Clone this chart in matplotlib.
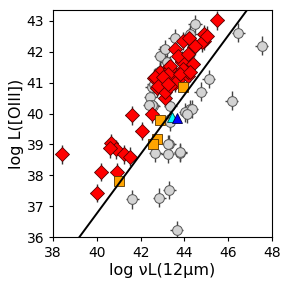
import matplotlib
matplotlib.use("Agg")
import matplotlib.pyplot as plt
import numpy as np

# gray circles (comparison sample)
gray_x = [44.48, 46.46, 47.53, 45.1, 44.74, 46.16, 44.26, 44.03, 43.57, 42.9, 43.19, 42.9,
          42.5, 42.58, 43.35, 42.43, 43.35, 43.35, 44.26, 44.18, 42.66, 43.23, 43.8, 43.3,
          41.62, 42.84, 43.3, 43.65, 44.33, 44.1, 42.53, 43.26, 43.8, 42.6, 43.1, 42.4]
gray_y = [42.9, 42.62, 42.2, 41.12, 40.71, 40.42, 40.15, 40.04, 42.44, 41.87, 41.66, 41.39,
          40.87, 40.23, 40.23, 40.53, 39.83, 39.74, 42.57, 42.41, 38.72, 38.7, 38.72, 39.0,
          37.22, 37.28, 37.52, 36.23, 40.15, 39.99, 40.26, 39.02, 38.75, 40.97, 42.09, 40.26]

# red diamonds
red_x = [38.4, 40.0, 40.2, 40.9, 40.65, 40.86, 40.6, 41.25, 41.5, 42.05, 41.6, 42.5,
         43.1, 42.76, 42.6, 43.26, 43.8, 44.15, 43.3, 43.9, 44.33, 43.57, 43.95, 44.44,
         44.87, 44.9, 45.5, 44.22, 43.1, 42.9, 43.88, 44.18, 43.5, 43.35, 44.79, 45.02,
         44.48, 43.72, 44.18, 43.35, 43.95, 44.41, 43.26, 43.8, 44.26, 43.57, 42.66, 42.8,
         43.35, 43.04, 43.26]
red_y = [38.68, 37.43, 38.1, 38.1, 39.04, 38.84, 38.87, 38.68, 38.6, 39.43, 39.94, 39.99,
         40.5, 40.83, 41.15, 41.01, 41.14, 41.23, 41.52, 41.71, 41.6, 42.09, 42.35, 42.14,
         42.35, 42.57, 43.02, 42.46, 40.69, 41.33, 41.66, 41.33, 41.17, 41.44, 42.3, 42.52,
         42.19, 41.87, 41.93, 41.55, 41.44, 41.6, 41.28, 41.28, 41.33, 41.0, 41.17, 40.9,
         40.9, 41.17, 40.96]

# orange squares
orange_x = [43.95, 42.9, 42.76, 42.55, 41.01]
orange_y = [40.85, 39.8, 39.18, 39.02, 37.8]

# triangles
cyan_x, cyan_y = [43.42], [39.9]
blue_x, blue_y = [43.65], [39.86]

# relation line
line_x = [38.0, 48.0]
line_slope = 0.96
line_x0 = 39.2

plt.rcParams["font.family"] = "DejaVu Sans"
fig = plt.figure(figsize=(2.87, 2.87), dpi=100)
ax = fig.add_axes([0.185, 0.174, 0.763, 0.791])

ax.errorbar(gray_x, gray_y, xerr=0.3, yerr=0.3, fmt="o", ms=7, mfc="#d3d3d3",
            mec="#555555", mew=0.7, ecolor="#444444", elinewidth=1, capsize=0, zorder=2)
ax.errorbar(red_x, red_y, xerr=0.3, yerr=0.3, fmt="none", ecolor="#333333",
            elinewidth=1, capsize=0, zorder=2)
ax.plot(red_x, red_y, "D", ms=7.5, mfc="red", mec="#550000", mew=0.6, zorder=3)
ax.plot(orange_x, orange_y, "s", ms=6.5, mfc="orange", mec="#553300", mew=0.6, zorder=4)
ax.plot(cyan_x, cyan_y, "^", ms=7, mfc="cyan", mec="#004444", mew=0.6, zorder=4)
ax.plot(blue_x, blue_y, "^", ms=7, mfc="blue", mec="#000044", mew=0.6, zorder=4)

lx = np.array(line_x)
ax.plot(lx, 36 + line_slope * (lx - line_x0), color="black", lw=1.4, zorder=5)

ax.set_xlim(38, 48)
ax.set_ylim(36, 43.35)
ax.set_xticks([38, 40, 42, 44, 46, 48])
ax.set_yticks([36, 37, 38, 39, 40, 41, 42, 43])
ax.tick_params(labelsize=10, direction="out", length=3, top=False, right=False)
ax.set_xlabel("log νL(12μm)", fontsize=11.5, labelpad=2)
ax.set_ylabel("log L([OIII])", fontsize=11.5, labelpad=2)

fig.savefig("out.png", dpi=100)
